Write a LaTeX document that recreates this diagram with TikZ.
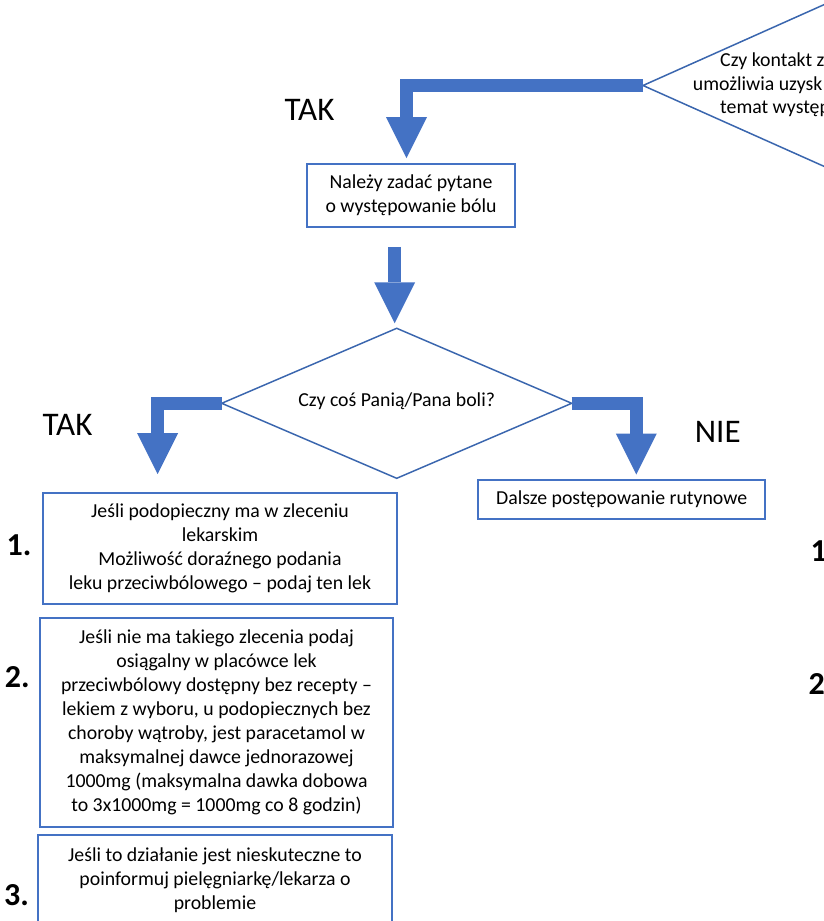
\documentclass[tikz,border=0pt]{standalone}
\usepackage{fontspec}
\setmainfont{Carlito}
\usetikzlibrary{arrows.meta,positioning,shapes.geometric,calc}
\definecolor{flowblue}{HTML}{4472C4}
\definecolor{lineblue}{HTML}{3A66AE}
\newcommand{\boxfont}{\fontsize{19.8pt}{24pt}\selectfont}
\newcommand{\tagfont}{\fontsize{33pt}{40pt}\selectfont}
\newcommand{\numfont}{\fontsize{32pt}{38pt}\selectfont\bfseries}

\begin{document}
\begin{tikzpicture}[x=1pt, y=-1pt,
		box/.style={rectangle, draw=flowblue, line width=1.8pt, align=center, inner sep=0pt, font=\boxfont},
		dec/.style={diamond, draw=lineblue, line width=1.5pt, inner sep=0pt, outer sep=0pt, font=\boxfont},
		txt/.style={font=\boxfont, inner sep=0pt, anchor=base west},
		tag/.style={font=\tagfont, inner sep=0pt, anchor=base west},
		num/.style={font=\numfont, inner sep=0pt, anchor=west},
		bigarrow/.style={draw=flowblue, line width=13pt, -{Triangle[width=41pt, length=41pt, line width=0pt]}}
		]
		\useasboundingbox (0,0) rectangle (824,921);
		\clip (0,0) rectangle (824,921);
		\node[dec, minimum width=600pt, minimum height=268pt, aspect=2.24] (q0) at (943,85.5) {};
		\node[txt] (q0a) at (720,66.7) {Czy kontakt z};
		\node[txt] (q0b) at (692.7,90.5) {umożliwia uzysk};
		\node[txt] (q0c) at (720,113.5) {temat występ};
		\node[tag] (yes0) at (284.5,120) {TAK};
		\node[box, minimum width=208pt, minimum height=63pt] (ask) at (411,195.5) {Należy zadać pytane\\o występowanie bólu};
		\node[dec, minimum width=350pt, minimum height=150pt, aspect=2.33] (q1) at (396.7,403.3) {\raisebox{7pt}{Czy coś Panią/Pana boli?}};
		\node[tag] (yes1) at (42.5,435) {TAK};
		\node[tag] (no1) at (694.7,442.3) {NIE};
		\node[box, minimum width=287pt, minimum height=39pt] (routine) at (621.7,499.5) {Dalsze postępowanie rutynowe};
		\node[box, minimum width=354pt, minimum height=111pt] (step1) at (220,548.5) {Jeśli podopieczny ma w zleceniu\\lekarskim\\Możliwość doraźnego podania\\leku przeciwbólowego – podaj ten lek};
		\node[box, minimum width=353pt, minimum height=209pt] (step2) at (216.5,722.5) {Jeśli nie ma takiego zlecenia podaj\\osiągalny w placówce lek\\przeciwbólowy dostępny bez recepty –\\lekiem z wyboru, u podopiecznych bez\\choroby wątroby, jest paracetamol w\\maksymalnej dawce jednorazowej\\1000mg (maksymalna dawka dobowa\\to 3x1000mg = 1000mg co 8 godzin)};
		\node[box, minimum width=354pt, minimum height=90pt] (step3) at (215,880) {Jeśli to działanie jest nieskuteczne to\\poinformuj pielęgniarkę/lekarza o\\problemie};
		\node[num] (n1) at (6.5,545) {1.};
		\node[num] (n2) at (4.7,677) {2.};
		\node[num] (n3) at (4,895) {3.};
		\node[num] (m1) at (810.5,551) {1};
		\node[num] (m2) at (808.5,684) {2};
		\draw[bigarrow] (q0.west) -| ($(ask.north)+(-4.5,-5)$);
		\draw[bigarrow] ($(q1.north |- ask.south)+(-2,19)$) -- ($(q1.north)+(-2,-5)$);
		\draw[bigarrow] (q1.west) -| ($(step1.north west)+(115.5,-18)$);
		\draw[bigarrow] (q1.east) -| ($(routine.north west)+(159,-4.5)$);
	\end{tikzpicture}
\end{document}
